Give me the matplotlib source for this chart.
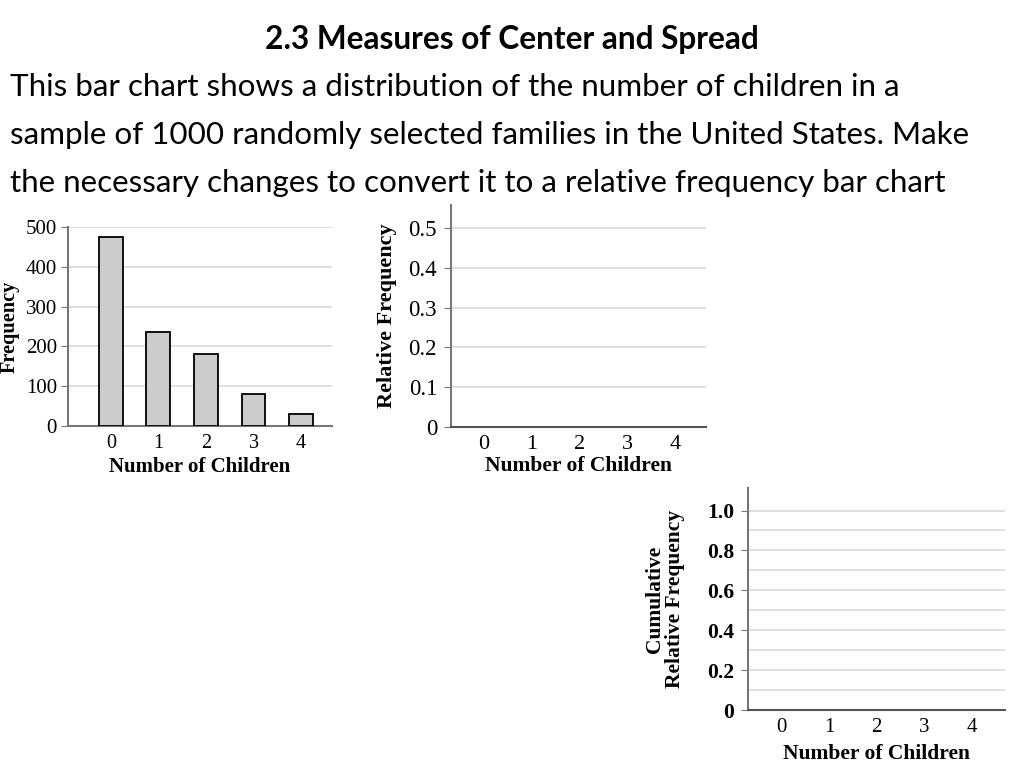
import matplotlib.pyplot as plt
import numpy as np

# data
children = [0, 1, 2, 3, 4]
frequency = [475, 235, 180, 80, 30]
freq_ticks = [0, 100, 200, 300, 400, 500]
rel_ticks = [0, 0.1, 0.2, 0.3, 0.4, 0.5]
rel_tick_labels = ['0', '0.1', '0.2', '0.3', '0.4', '0.5']
cum_ticks = [0, 0.2, 0.4, 0.6, 0.8, 1.0]
cum_tick_labels = ['0', '0.2', '0.4', '0.6', '0.8', '1.0']
cum_grid = [0.1, 0.2, 0.3, 0.4, 0.5, 0.6, 0.7, 0.8, 0.9, 1.0]

title = '2.3 Measures of Center and Spread'
body = ['This bar chart shows a distribution of the number of children in a',
        'sample of 1000 randomly selected families in the United States. Make',
        'the necessary changes to convert it to a relative frequency bar chart']

serif = 'Liberation Serif'
spine_col = '#777777'
grid_col = '#d9d9d9'

fig = plt.figure(figsize=(10.24, 7.68), dpi=100)

fig.text(0.5, 1 - 40 / 768, title, ha='center', va='center',
         fontsize=22.8, fontweight='bold', family='Lato')
for i, line in enumerate(body):
    fig.text(10 / 1024, 1 - (87 + 48 * i) / 768, line, ha='left', va='center',
             fontsize=22.6, family='Lato')


def style_axes(ax, size=15, ypad=3):
    for s in ['top', 'right']:
        ax.spines[s].set_visible(False)
    ax.spines['left'].set_color(spine_col)
    ax.spines['bottom'].set_color(spine_col)
    ax.spines['left'].set_linewidth(1.5)
    ax.spines['bottom'].set_linewidth(1.5)
    ax.tick_params(axis='y', length=5, color=spine_col, labelsize=size,
                   pad=ypad)
    ax.tick_params(axis='x', length=0, labelsize=size - 0.5, pad=6)
    for lab in ax.get_xticklabels() + ax.get_yticklabels():
        lab.set_family(serif)


# frequency bar chart
ax1 = fig.add_axes([68 / 1024, 1 - 426 / 768, 264 / 1024, 199 / 768])
ax1.bar(children, frequency, width=0.5, color='#cccccc', edgecolor='black',
        linewidth=1.3, zorder=3)
ax1.set_ylim(0, 500)
ax1.set_xlim(-0.9, 4.65)
ax1.set_yticks(freq_ticks)
ax1.set_xticks(children)
ax1.yaxis.grid(True, color=grid_col, linewidth=1.2, zorder=0)
style_axes(ax1, 15)
ax1.set_ylabel('Frequency', family=serif, fontweight='bold', fontsize=14.6,
               labelpad=4)
ax1.set_xlabel('Number of Children', family=serif, fontweight='bold',
               fontsize=15, labelpad=3)

# relative frequency (empty)
ax2 = fig.add_axes([451 / 1024, 1 - 427 / 768, 255 / 1024, 222 / 768])
ax2.set_ylim(0, 0.558)
ax2.set_xlim(-0.69, 4.65)
ax2.set_yticks(rel_ticks)
ax2.set_yticklabels(rel_tick_labels)
ax2.set_xticks(children)
for v in rel_ticks[1:]:
    ax2.axhline(v, color=grid_col, linewidth=1.2, zorder=0)
style_axes(ax2, 16.5, 5)
ax2.spines['bottom'].set_color('#555555')
ax2.set_ylabel('Relative Frequency', family=serif, fontweight='bold',
               fontsize=16, labelpad=8)
ax2.set_xlabel('Number of Children', family=serif, fontweight='bold',
               fontsize=15.5, labelpad=1)

# cumulative relative frequency (empty)
ax3 = fig.add_axes([748 / 1024, 58 / 768, 257 / 1024, 222 / 768])
ax3.set_ylim(0, 1.113)
ax3.set_xlim(-0.7, 4.7)
ax3.set_yticks(cum_ticks)
ax3.set_yticklabels(cum_tick_labels)
ax3.set_xticks(children)
for v in cum_grid:
    ax3.axhline(v, color=grid_col, linewidth=1.2, zorder=0)
style_axes(ax3, 15.5, 5)
ax3.spines['bottom'].set_color('#555555')
for lab in ax3.get_yticklabels():
    lab.set_fontweight('bold')
ax3.set_ylabel('Cumulative\nRelative Frequency', family=serif,
               fontweight='bold', fontsize=15.5, labelpad=16,
               linespacing=0.95)
ax3.set_xlabel('Number of Children', family=serif, fontweight='bold',
               fontsize=15.5, labelpad=5)

fig.savefig('out.png', dpi=100)
